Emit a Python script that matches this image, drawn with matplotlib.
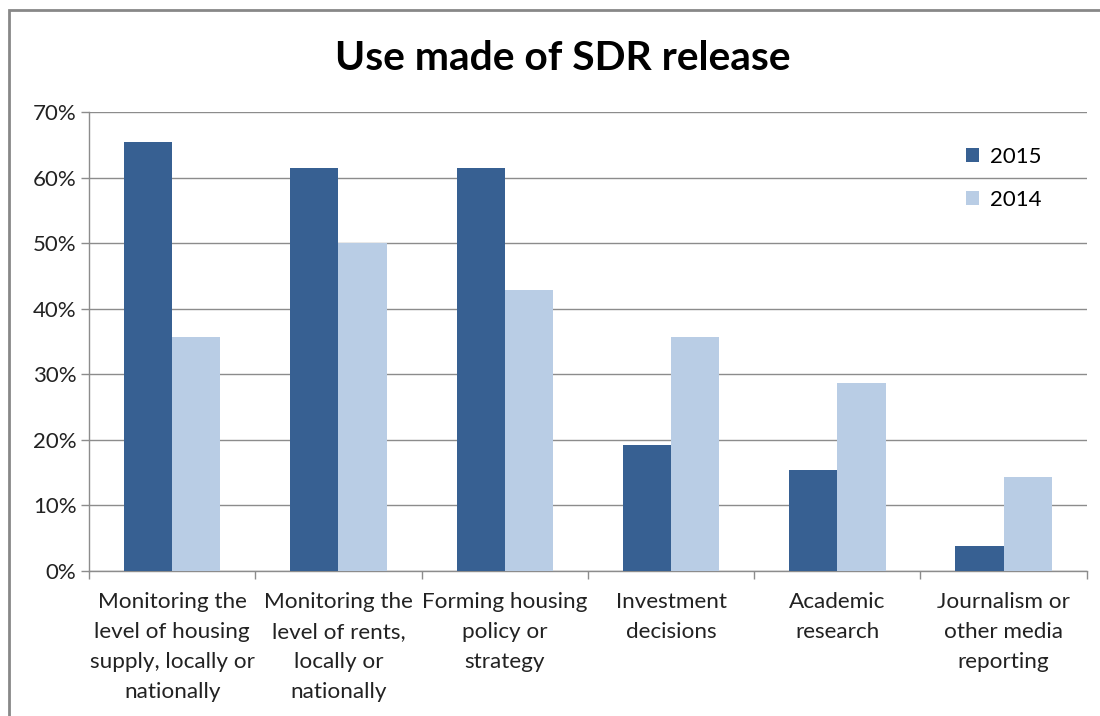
import numpy as np
import matplotlib
matplotlib.use('Agg')
import matplotlib.pyplot as plt
from matplotlib.patches import Rectangle

plt.rcParams['font.family'] = ['Lato', 'DejaVu Sans']

# datos
categorias = ['Monitoring the\nlevel of housing\nsupply, locally or\nnationally',
              'Monitoring the\nlevel of rents,\nlocally or\nnationally',
              'Forming housing\npolicy or\nstrategy',
              'Investment\ndecisions',
              'Academic\nresearch',
              'Journalism or\nother media\nreporting']
valores_2015 = [65.4, 61.5, 61.5, 19.2, 15.4, 3.8]
valores_2014 = [35.7, 50.0, 42.9, 35.7, 28.6, 14.3]
ticks_y = [0, 10, 20, 30, 40, 50, 60, 70]

color_2015 = '#376092'
color_2014 = '#b9cde5'
gris = '#8c8c8c'

fig = plt.figure(figsize=(11, 7.16), dpi=100)
ax = fig.add_axes([0.0809, 0.2025, 0.9071, 0.6411])

x = np.arange(len(categorias))
ancho = 0.29
ax.bar(x - ancho / 2, valores_2015, ancho, color=color_2015, label='2015', zorder=3)
ax.bar(x + ancho / 2, valores_2014, ancho, color=color_2014, label='2014', zorder=3)

ax.set_xlim(-0.5, len(categorias) - 0.5)
ax.set_ylim(0, 70)
ax.set_yticks(ticks_y)
ax.set_yticklabels([f'{t}%' for t in ticks_y], fontsize=16, color='#222222')
ax.yaxis.grid(True, color=gris, linewidth=1, zorder=0)

# etiquetas de categoria centradas, ticks en los limites
ax.set_xticks(x)
ax.set_xticklabels(categorias, fontsize=16.2, color='#222222', linespacing=1.62)
ax.tick_params(axis='x', length=0, pad=15)
ax.set_xticks(np.arange(len(categorias) + 1) - 0.5, minor=True)
ax.tick_params(axis='x', which='minor', length=6, color=gris, width=1)
ax.tick_params(axis='y', length=6, color=gris, width=1, pad=3)

for lado in ['top', 'right']:
    ax.spines[lado].set_visible(False)
for lado in ['left', 'bottom']:
    ax.spines[lado].set_color(gris)
    ax.spines[lado].set_linewidth(1)

ax.legend(loc='upper right', bbox_to_anchor=(0.975, 0.968), frameon=False, fontsize=16,
          handlelength=0.6, handleheight=0.6, labelspacing=1.05, handletextpad=0.5)

fig.text(0.512, 0.918, 'Use made of SDR release', ha='center', va='center',
         fontsize=29.3, fontweight='bold', color='black')

# marco del grafico
fig.patches.append(Rectangle((9 / 1100, -0.1), 1.2, 1 - 10 / 716 + 0.1,
                             transform=fig.transFigure, fill=False,
                             edgecolor='#888888', linewidth=2))

plt.savefig('out.png', dpi=100)
